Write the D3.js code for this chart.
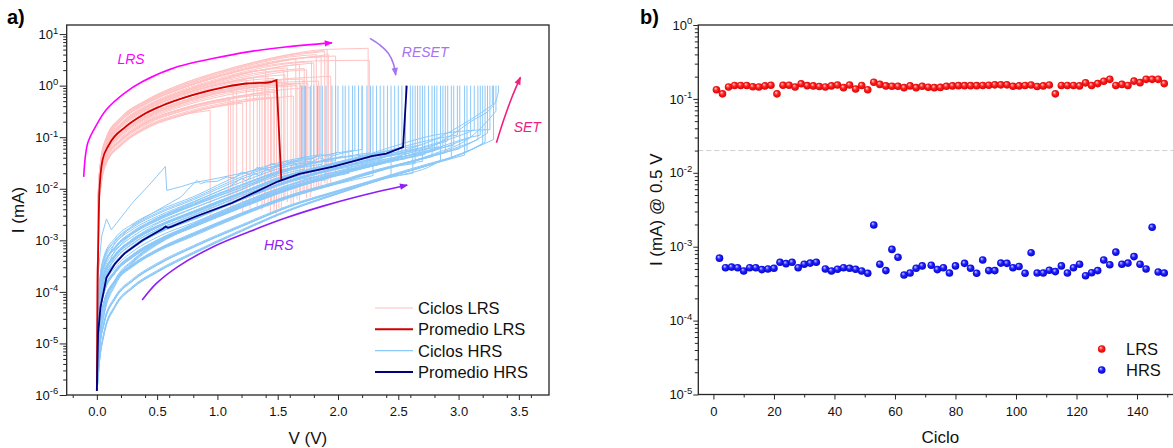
<!DOCTYPE html>
<html>
<head>
<meta charset="utf-8">
<script src="https://cdn.jsdelivr.net/npm/d3@7"></script>
<style>
  body { margin: 0; background: #fff; }
  svg { display: block; font-family: "Liberation Sans", Arial, sans-serif; }
</style>
</head>
<body>
<svg id="chart" width="1173" height="448"></svg>
<script>
// ---------------- Panel a): I-V sweeps ----------------
const startI = 1.2e-6;        // current at 0 V (mA)
const complianceI = 1.0;      // SET compliance (mA)

// LRS sweeps: currents (mA) sampled on lrsGridV up to the RESET voltage
const lrsGridV = [0.01, 0.03, 0.08, 0.2, 0.4, 0.7, 1.0, 1.3, 1.6, 1.9, 2.2];
const lrsCycleI = [
  [0.0025, 0.0098, 0.032, 0.07, 0.148, 0.265],
  [0.0033, 0.013, 0.043, 0.091, 0.19, 0.355, 0.53],
  [0.0036, 0.0155, 0.051, 0.112, 0.235, 0.455, 0.72],
  [0.0041, 0.0185, 0.059, 0.137, 0.285, 0.565, 0.9],
  [0.0024, 0.0095, 0.031, 0.068, 0.142, 0.26, 0.39],
  [0.003, 0.012, 0.04, 0.086, 0.185, 0.34, 0.51],
  [0.0046, 0.021, 0.07, 0.163, 0.335, 0.67, 1.07],
  [0.0034, 0.0148, 0.049, 0.108, 0.226, 0.44, 0.7, 0.92],
  [0.004, 0.0178, 0.057, 0.133, 0.276, 0.55, 0.88, 1.13],
  [0.0051, 0.0255, 0.081, 0.183, 0.385, 0.77, 1.28, 1.92],
  [0.0026, 0.0102, 0.034, 0.073, 0.153, 0.275, 0.41, 0.53],
  [0.0031, 0.0124, 0.041, 0.088, 0.188, 0.345, 0.515, 0.68],
  [0.0039, 0.0175, 0.056, 0.131, 0.272, 0.545, 0.87, 1.12],
  [0.0045, 0.0198, 0.067, 0.158, 0.325, 0.65, 1.03, 1.43],
  [0.0035, 0.0152, 0.051, 0.112, 0.232, 0.455, 0.72, 0.94, 1.05],
  [0.0057, 0.0285, 0.09, 0.213, 0.445, 0.9, 1.52, 2.32, 3.2],
  [0.005, 0.0248, 0.078, 0.178, 0.375, 0.75, 1.25, 1.88, 2.48],
  [0.0042, 0.0182, 0.059, 0.138, 0.285, 0.57, 0.91, 1.17, 1.32],
  [0.0044, 0.0202, 0.069, 0.162, 0.332, 0.665, 1.06, 1.46, 1.92],
  [0.0032, 0.0128, 0.043, 0.091, 0.194, 0.355, 0.53, 0.7, 0.86],
  [0.0049, 0.0242, 0.077, 0.176, 0.37, 0.74, 1.23, 1.86, 2.45],
  [0.0063, 0.032, 0.1, 0.24, 0.5, 1.05, 1.8, 2.8, 4.0, 5.0],
  [0.0056, 0.0275, 0.088, 0.208, 0.435, 0.88, 1.48, 2.28, 3.15, 3.95],
  [0.0064, 0.033, 0.102, 0.245, 0.51, 1.07, 1.83, 2.85, 4.05, 5.05, 5.25],
  [0.0055, 0.027, 0.086, 0.205, 0.43, 0.87, 1.45, 2.2, 2.8, 3.05, 3.1],
  [0.0046, 0.0205, 0.069, 0.16, 0.33, 0.66, 1.05, 1.45],
  [0.005, 0.025, 0.079, 0.18, 0.38, 0.76, 1.26, 1.9],
  [0.0036, 0.015, 0.05, 0.11, 0.23, 0.45, 0.71, 0.93, 1.05],
  [0.0056, 0.028, 0.089, 0.21, 0.44, 0.89, 1.5, 2.3, 3.2],
  [0.0025, 0.01, 0.033, 0.071, 0.15, 0.27, 0.4, 0.52, 0.62],
  [0.0032, 0.0126, 0.042, 0.089, 0.19, 0.35, 0.52, 0.69],
  [0.0038, 0.016, 0.053, 0.12, 0.25, 0.49, 0.78, 1.0, 1.1],
  [0.0058, 0.029, 0.092, 0.22, 0.46, 0.94, 1.58, 2.45, 3.3, 3.7],
  [0.0029, 0.0115, 0.038, 0.082, 0.172, 0.315, 0.47],
  [0.0037, 0.016, 0.053, 0.118, 0.245, 0.475, 0.75, 0.97],
  [0.0043, 0.019, 0.063, 0.148, 0.305, 0.61, 0.97, 1.3],
  [0.0027, 0.0106, 0.035, 0.076, 0.16, 0.29, 0.435, 0.56],
  [0.0047, 0.022, 0.073, 0.168, 0.35, 0.7, 1.13, 1.6, 2.05],
  [0.0034, 0.0142, 0.047, 0.103, 0.215, 0.415, 0.65, 0.85, 0.98],
  [0.0041, 0.0178, 0.058, 0.135, 0.28, 0.56, 0.89, 1.15, 1.38, 1.5],
  [0.0053, 0.026, 0.083, 0.192, 0.4, 0.81, 1.35, 2.05, 2.7],
  [0.003, 0.0118, 0.039, 0.084, 0.178, 0.325, 0.485, 0.64],
  [0.0045, 0.0205, 0.068, 0.158, 0.328, 0.655, 1.04],
  [0.0038, 0.0165, 0.054, 0.124, 0.256, 0.5, 0.8, 1.04, 1.18],
  [0.006, 0.03, 0.095, 0.228, 0.475, 0.98, 1.67, 2.6, 3.6],
  [0.0049, 0.023, 0.074, 0.172, 0.36, 0.72, 1.18, 1.72],
  [0.0033, 0.0135, 0.045, 0.097, 0.204, 0.39, 0.6, 0.79],
  [0.0059, 0.031, 0.097, 0.232, 0.485, 1.0, 1.72, 2.7, 3.8]
];
const lrsResetV = [0.94, 1.09, 1.13, 1.16, 1.21, 1.27, 1.30, 1.33, 1.37, 1.40, 1.45, 1.49, 1.53, 1.56, 1.61, 1.65, 1.68,
  1.71, 1.74, 1.77, 1.80, 1.91, 1.92, 2.25, 2.26, 1.42, 1.58, 1.69, 1.86, 1.63, 1.35, 1.75, 1.98,
  1.11, 1.39, 1.47, 1.51, 1.72, 1.66, 1.94, 1.78, 1.44, 1.24, 1.84, 1.82, 1.55, 1.47, 1.89];
const lrsResetTopI = [0.33, 0.58, 0.78, 0.97, 0.46, 0.64, 1.43, 0.94, 1.19, 2.02, 0.57, 0.75, 1.24, 1.62, 1.06, 3.3, 2.6,
  1.34, 2.03, 0.91, 2.75, 5.1, 4.0, 5.3, 3.1, 1.5, 2.2, 1.1, 3.6, 0.63, 0.72, 1.12, 3.75,
  0.52, 1.02, 1.38, 0.6, 2.15, 1.0, 1.52, 2.9, 0.67, 1.3, 1.22, 4.0, 2.0, 0.84, 4.6];
const lrsResetLowI = [0.0026, 0.0052, 0.0042, 0.006, 0.0035, 0.0041, 0.0052, 0.0046, 0.0038, 0.0062, 0.0049, 0.0033, 0.0041,
  0.0071, 0.0051, 0.0082, 0.0058, 0.0088, 0.0066, 0.0069, 0.0098, 0.012, 0.015, 0.034, 0.028, 0.0045, 0.0055, 0.0075,
  0.011, 0.0045, 0.006, 0.0095, 0.018,
  0.0038, 0.0052, 0.0036, 0.0042, 0.0078, 0.0062, 0.012, 0.0085, 0.0032, 0.0048, 0.0105, 0.01, 0.0058, 0.0045, 0.013];

// HRS sweeps: currents (mA) sampled on hrsGridV up to the SET voltage
const hrsGridV = [0.005, 0.02, 0.06, 0.15, 0.3, 0.5, 0.8, 1.2, 1.6, 2.0, 2.4, 2.8, 3.1, 3.3];
const hrsCycleI = [
  [3.2e-5, 1.3e-4, 4.6e-4, 1.0e-3, 1.9e-3, 3.4e-3, 6.5e-3, 0.017, 0.033],
  [2.1e-5, 9e-5, 3.3e-4, 7.3e-4, 1.4e-3, 2.6e-3, 5e-3, 0.012, 0.025],
  [1.4e-5, 6.2e-5, 2.2e-4, 5.2e-4, 1.05e-3, 1.9e-3, 3.6e-3, 8.5e-3, 0.019],
  [3.5e-5, 1.4e-4, 5e-4, 1.1e-3, 2.1e-3, 3.7e-3, 7e-3, 0.019, 0.036],
  [1.9e-5, 8.5e-5, 3.1e-4, 6.9e-4, 1.35e-3, 2.4e-3, 4.7e-3, 0.0105, 0.023],
  [1.5e-5, 6.5e-5, 2.3e-4, 5.1e-4, 1e-3, 1.85e-3, 3.4e-3, 8e-3, 0.018],
  [2e-5, 9.2e-5, 3.4e-4, 7.5e-4, 1.5e-3, 2.7e-3, 5.2e-3, 0.012, 0.025, 0.041],
  [1e-5, 4.6e-5, 1.6e-4, 3.6e-4, 7.6e-4, 1.45e-3, 2.7e-3, 6.5e-3, 0.0145, 0.026],
  [3e-5, 1.2e-4, 4.3e-4, 9.5e-4, 1.8e-3, 3.2e-3, 6.1e-3, 0.0155, 0.031, 0.05],
  [1.35e-5, 6e-5, 2.1e-4, 4.8e-4, 9.6e-4, 1.75e-3, 3.4e-3, 8.1e-3, 0.0175, 0.031],
  [9.5e-6, 4.4e-5, 1.55e-4, 3.4e-4, 7.2e-4, 1.35e-3, 2.5e-3, 6.1e-3, 0.0135, 0.024],
  [2.2e-5, 9.5e-5, 3.3e-4, 7.2e-4, 1.45e-3, 2.55e-3, 4.9e-3, 0.0115, 0.024, 0.04],
  [1.45e-5, 6.4e-5, 2.25e-4, 5.1e-4, 1.02e-3, 1.85e-3, 3.6e-3, 8.4e-3, 0.018, 0.032],
  [6.3e-6, 2.8e-5, 1e-4, 2.4e-4, 5e-4, 9.5e-4, 1.9e-3, 4.5e-3, 0.01, 0.019],
  [1.05e-5, 4.7e-5, 1.65e-4, 3.6e-4, 7.6e-4, 1.45e-3, 2.7e-3, 6.4e-3, 0.0142, 0.025, 0.042],
  [1.4e-5, 6.3e-5, 2.2e-4, 5e-4, 1e-3, 1.8e-3, 3.5e-3, 8.3e-3, 0.018, 0.032, 0.052],
  [6.5e-6, 2.9e-5, 1.05e-4, 2.5e-4, 5.2e-4, 9.8e-4, 1.95e-3, 4.6e-3, 0.0102, 0.0195, 0.034],
  [1e-5, 4.5e-5, 1.6e-4, 3.5e-4, 7.4e-4, 1.4e-3, 2.6e-3, 6.3e-3, 0.014, 0.025, 0.042],
  [4e-6, 1.8e-5, 6.3e-5, 1.6e-4, 3.3e-4, 6.3e-4, 1.3e-3, 3.2e-3, 7.1e-3, 0.013, 0.025],
  [1.5e-5, 6.6e-5, 2.3e-4, 5.3e-4, 1.05e-3, 1.9e-3, 3.7e-3, 8.6e-3, 0.019, 0.033, 0.054],
  [6.1e-6, 2.7e-5, 9.7e-5, 2.3e-4, 4.8e-4, 9.2e-4, 1.85e-3, 4.4e-3, 9.8e-3, 0.0185, 0.032],
  [1.1e-5, 4.8e-5, 1.7e-4, 3.7e-4, 7.8e-4, 1.5e-3, 2.8e-3, 6.6e-3, 0.0148, 0.026, 0.044],
  [4.2e-6, 1.9e-5, 6.5e-5, 1.65e-4, 3.4e-4, 6.5e-4, 1.35e-3, 3.3e-3, 7.3e-3, 0.0135, 0.026],
  [6.3e-6, 2.8e-5, 1e-4, 2.4e-4, 5e-4, 9.5e-4, 1.9e-3, 4.5e-3, 0.01, 0.019, 0.033, 0.056],
  [1.5e-6, 4e-6, 1.5e-5, 5e-5, 1.2e-4, 2.4e-4, 5.5e-4, 1.5e-3, 3.8e-3, 8e-3, 0.016, 0.03],
  [3.8e-6, 1.7e-5, 6e-5, 1.55e-4, 3.2e-4, 6.1e-4, 1.25e-3, 3.1e-3, 6.9e-3, 0.0128, 0.024, 0.044],
  [1e-5, 4.5e-5, 1.6e-4, 3.5e-4, 7.4e-4, 1.4e-3, 2.6e-3, 6.3e-3, 0.014, 0.025, 0.042, 0.071],
  [6.8e-6, 3e-5, 1.07e-4, 2.55e-4, 5.3e-4, 1e-3, 2e-3, 4.7e-3, 0.0105, 0.02, 0.035, 0.058],
  [4e-6, 1.8e-5, 6.3e-5, 1.6e-4, 3.3e-4, 6.3e-4, 1.3e-3, 3.2e-3, 7.1e-3, 0.013, 0.025, 0.045],
  [2e-6, 7e-6, 2.5e-5, 7.5e-5, 1.7e-4, 3.4e-4, 7.5e-4, 1.9e-3, 4.6e-3, 9e-3, 0.017, 0.032],
  [6e-6, 2.7e-5, 9.6e-5, 2.3e-4, 4.8e-4, 9.1e-4, 1.8e-3, 4.3e-3, 9.7e-3, 0.0185, 0.032, 0.055],
  [4.1e-6, 1.85e-5, 6.4e-5, 1.62e-4, 3.35e-4, 6.4e-4, 1.32e-3, 3.25e-3, 7.2e-3, 0.0132, 0.025, 0.046, 0.079],
  [1.5e-6, 4.2e-6, 1.6e-5, 5.2e-5, 1.25e-4, 2.5e-4, 5.7e-4, 1.55e-3, 3.9e-3, 8.2e-3, 0.0162, 0.031, 0.056],
  [3.9e-6, 1.75e-5, 6.1e-5, 1.58e-4, 3.25e-4, 6.2e-4, 1.28e-3, 3.15e-3, 7e-3, 0.0128, 0.0245, 0.044, 0.077],
  [1.2e-5, 5.2e-5, 1.9e-4, 4.3e-4, 8.8e-4, 1.6e-3, 3.1e-3, 7.4e-3, 0.016, 0.03, 0.06, 0.11, 0.135],
  [1.9e-6, 6.6e-6, 2.4e-5, 7.2e-5, 1.65e-4, 3.3e-4, 7.3e-4, 1.85e-3, 4.5e-3, 8.8e-3, 0.0168, 0.031, 0.057],
  [6.2e-6, 2.75e-5, 9.8e-5, 2.35e-4, 4.9e-4, 9.3e-4, 1.85e-3, 4.4e-3, 9.9e-3, 0.019, 0.034, 0.07, 0.2, 0.45],
  [1.7e-5, 7.5e-5, 2.7e-4, 6e-4, 1.2e-3, 2.2e-3, 4.2e-3, 9.8e-3, 0.021],
  [9e-6, 4e-5, 1.5e-4, 3.4e-4, 7e-4, 1.35e-3, 2.6e-3, 6.2e-3, 0.0138],
  [2.5e-6, 9e-6, 4e-5, 1.5e-4, 4e-4, 9e-4, 2e-3, 5e-3, 0.011],
  [2.6e-5, 1.1e-4, 3.9e-4, 8.6e-4, 1.65e-3, 2.9e-3, 5.6e-3, 0.0135, 0.028],
  [6e-6, 2.6e-5, 9.5e-5, 2.3e-4, 4.7e-4, 9e-4, 1.8e-3, 4.3e-3, 9.6e-3, 0.018],
  [1.3e-5, 5.8e-5, 2.1e-4, 4.7e-4, 9.5e-4, 1.75e-3, 3.3e-3, 7.9e-3, 0.017, 0.03],
  [3e-6, 1.2e-5, 5e-5, 1.7e-4, 4.2e-4, 9e-4, 2.1e-3, 5.4e-3, 0.012, 0.022],
  [3.6e-6, 1.6e-5, 5.8e-5, 1.5e-4, 3.1e-4, 6e-4, 1.2e-3, 3e-3, 6.7e-3, 0.0125],
  [1.9e-5, 8.6e-5, 3.1e-4, 6.9e-4, 1.35e-3, 2.45e-3, 4.7e-3, 0.0108, 0.023, 0.039],
  [2e-6, 7e-6, 2.5e-5, 7.5e-5, 1.7e-4, 3.4e-4, 7.5e-4, 1.9e-3, 4.6e-3, 9e-3, 0.017],
  [8e-6, 3.6e-5, 1.3e-4, 2.9e-4, 6.1e-4, 1.15e-3, 2.2e-3, 5.3e-3, 0.012, 0.022, 0.038],
  [2.2e-6, 8e-6, 3.5e-5, 1.3e-4, 3.6e-4, 8.2e-4, 1.85e-3, 4.7e-3, 0.0105, 0.0195, 0.034],
  [1.5e-6, 4e-6, 1.5e-5, 5e-5, 1.2e-4, 2.4e-4, 5.5e-4, 1.5e-3, 3.8e-3, 8e-3, 0.016],
  [1.2e-5, 5.3e-5, 1.9e-4, 4.2e-4, 8.6e-4, 1.6e-3, 3e-3, 7.2e-3, 0.016, 0.028, 0.047],
  [4.3e-6, 1.9e-5, 6.6e-5, 1.7e-4, 3.5e-4, 6.7e-4, 1.4e-3, 3.4e-3, 7.5e-3, 0.014, 0.026],
  [7e-6, 3.1e-5, 1.1e-4, 2.6e-4, 5.4e-4, 1.02e-3, 2.05e-3, 4.8e-3, 0.0107, 0.0202, 0.035],
  [2.8e-6, 1.1e-5, 4.6e-5, 1.6e-4, 4e-4, 8.6e-4, 2e-3, 5.1e-3, 0.0115, 0.021, 0.037, 0.063],
  [2.1e-6, 7.5e-6, 2.7e-5, 8e-5, 1.8e-4, 3.6e-4, 7.9e-4, 2e-3, 4.8e-3, 9.3e-3, 0.0175, 0.033],
  [1.45e-5, 6.5e-5, 2.3e-4, 5.2e-4, 1.03e-3, 1.85e-3, 3.6e-3, 8.5e-3, 0.0185, 0.033, 0.054, 0.092],
  [1.6e-6, 4.5e-6, 1.7e-5, 5.5e-5, 1.3e-4, 2.6e-4, 5.9e-4, 1.6e-3, 4e-3, 8.4e-3, 0.0165, 0.031],
  [1e-5, 4.5e-5, 1.6e-4, 3.5e-4, 7.4e-4, 1.4e-3, 2.6e-3, 6.3e-3, 0.014, 0.025, 0.042, 0.075, 0.13],
  [2.3e-6, 8.5e-6, 3.7e-5, 1.4e-4, 3.8e-4, 8.5e-4, 1.9e-3, 4.8e-3, 0.0108, 0.02, 0.035, 0.06, 0.1],
  [1.9e-6, 6.8e-6, 2.4e-5, 7.2e-5, 1.65e-4, 3.3e-4, 7.3e-4, 1.85e-3, 4.5e-3, 8.8e-3, 0.0168, 0.031, 0.057],
  [1.1e-5, 4.8e-5, 1.7e-4, 3.7e-4, 7.8e-4, 1.45e-3, 2.7e-3, 6.5e-3, 0.0145, 0.026, 0.045, 0.09, 0.22],
  [4e-6, 1.8e-5, 6.3e-5, 1.6e-4, 3.3e-4, 6.3e-4, 1.3e-3, 3.2e-3, 7.1e-3, 0.013, 0.025, 0.048, 0.1, 0.3]
];
const hrsSetV = [1.70, 1.73, 1.77, 1.83, 1.87, 1.95, 2.04, 2.06, 2.14, 2.17, 2.24, 2.27, 2.32, 2.35, 2.41, 2.47, 2.50,
  2.60, 2.64, 2.68, 2.72, 2.75, 2.78, 2.82, 2.85, 2.89, 2.91, 2.96, 3.01, 3.07, 3.10, 3.16, 3.20, 3.24, 3.26, 3.29, 3.33,
  1.72, 1.80, 1.90, 1.98, 2.09, 2.12, 2.20, 2.29, 2.38, 2.44, 2.53, 2.56, 2.62, 2.66, 2.70, 2.80, 2.87, 2.94, 2.99, 3.05,
  3.13, 3.18, 3.22, 3.28, 3.31];
const hrsSetI = [0.037, 0.028, 0.022, 0.045, 0.03, 0.026, 0.043, 0.028, 0.056, 0.035, 0.03, 0.05, 0.045, 0.03, 0.043,
  0.058, 0.037, 0.05, 0.031, 0.07, 0.046, 0.06, 0.042, 0.058, 0.036, 0.05, 0.085, 0.07, 0.06, 0.052, 0.1, 0.09, 0.075,
  0.12, 0.14, 0.09, 0.75,
  0.024, 0.017, 0.015, 0.035, 0.02, 0.033, 0.026, 0.018, 0.048, 0.019, 0.043, 0.038, 0.02, 0.06, 0.034, 0.055, 0.066,
  0.04, 0.11, 0.045, 0.14, 0.11, 0.08, 0.42, 0.32];

// HRS sweeps with noisy / irregular segments, given point by point [V, I]
const hrsNoisySweeps = [
  [[0, 1.2e-6], [0.01, 6e-5], [0.05, 3e-4], [0.15, 9e-4], [0.3, 2e-3], [0.5, 3.8e-3], [0.7, 7e-3], [0.8, 0.0125],
   [0.83, 0.0145], [0.86, 0.0125], [0.9, 0.0135], [1.0, 0.014], [1.08, 0.017], [1.14, 0.016], [1.2, 0.021],
   [1.27, 0.019], [1.33, 0.026], [1.38, 0.024], [1.45, 0.031], [1.5, 0.028], [1.56, 0.034], [1.62, 0.032],
   [1.7, 0.04], [1.76, 0.037], [1.85, 0.045]],
  [[0, 1.2e-6], [0.01, 4e-5], [0.05, 2e-4], [0.15, 6.5e-4], [0.3, 1.4e-3], [0.5, 2.7e-3], [0.8, 5.5e-3], [1.1, 0.011],
   [1.2, 0.016], [1.24, 0.014], [1.3, 0.02], [1.35, 0.018], [1.4, 0.024], [1.44, 0.022], [1.5, 0.03], [1.55, 0.027],
   [1.62, 0.036], [1.68, 0.033], [1.72, 0.042], [1.78, 0.038], [1.85, 0.046], [1.92, 0.043], [2.0, 0.052]],
  [[0, 1.2e-6], [0.01, 3e-5], [0.05, 1.5e-4], [0.15, 5e-4], [0.3, 1.1e-3], [0.5, 2.1e-3], [0.8, 4.2e-3], [1.2, 9.5e-3],
   [1.4, 0.016], [1.45, 0.02], [1.48, 0.017], [1.52, 0.025], [1.58, 0.022], [1.63, 0.03], [1.68, 0.027], [1.72, 0.035],
   [1.78, 0.033], [1.85, 0.04], [1.9, 0.036], [1.96, 0.044], [2.05, 0.05], [2.2, 0.058]],
  [[0, 1.2e-6], [0.01, 2e-4], [0.04, 1.2e-3], [0.08, 2.6e-3], [0.12, 1.6e-3], [0.3, 5.5e-3], [0.45, 0.013],
   [0.568, 0.027], [0.58, 0.0093], [0.7, 0.011], [0.8, 0.013], [1.0, 0.016], [1.2, 0.02], [1.4, 0.025], [1.6, 0.03],
   [1.7, 0.032]]
];

// Mean curves [V, I]
const lrsMean = [[0.0, 1.2e-6], [0.006, 1e-4], [0.015, 2e-3], [0.02, 8e-3], [0.047, 0.036], [0.10, 0.071],
  [0.24, 0.16], [0.38, 0.27], [0.52, 0.39], [0.80, 0.66], [1.07, 0.95], [1.24, 1.10], [1.35, 1.13], [1.42, 1.15],
  [1.49, 1.28]];
const lrsMeanReset = [1.53, 0.0148];
const hrsMean = [[0.0, 1.2e-6], [0.01, 1.5e-5], [0.03, 5e-5], [0.08, 1.9e-4], [0.15, 3.5e-4], [0.23, 5.6e-4],
  [0.38, 1.0e-3], [0.55, 1.7e-3], [0.57, 1.85e-3], [0.59, 1.75e-3], [0.62, 1.85e-3], [0.82, 2.9e-3], [1.12, 5.3e-3],
  [1.50, 0.0138], [1.68, 0.0195], [1.96, 0.027], [2.16, 0.036], [2.28, 0.043], [2.40, 0.048], [2.54, 0.064]];
const hrsMeanSet = [2.57, 1.0];

// Direction arrows and their labels, in data units [V, I]
const arrowLRS = [[-0.109, 0.017], [-0.076, 0.076], [-0.011, 0.16], [0.078, 0.34], [0.227, 0.71], [0.376, 1.19],
  [0.673, 2.34], [0.97, 3.39], [1.267, 4.57], [1.564, 5.62], [1.95, 6.76]];
const arrowHRS = [[0.376, 6.95e-5], [0.494, 1.46e-4], [0.673, 3.1e-4], [0.97, 7.6e-4], [1.267, 1.48e-3],
  [1.564, 2.7e-3], [1.861, 4.5e-3], [2.158, 7e-3], [2.574, 0.0118]];
const arrowRESET = [[2.265, 8.26], [2.349, 6.12], [2.418, 4.23], [2.459, 2.70], [2.479, 1.60]];
const arrowSET = [[3.314, 0.078], [3.374, 0.215], [3.444, 0.61], [3.513, 1.45]];
const stateLabels = [
  { text: "LRS", v: 0.171, i: 2.62, color: "#ff00ff" },
  { text: "RESET", v: 2.529, i: 3.66, color: "#a574f0" },
  { text: "SET", v: 3.457, i: 0.126, color: "#f0207e" },
  { text: "HRS", v: 1.386, i: 6.5e-4, color: "#8e1ef5" }
];

const voltTicks = [0, 0.5, 1.0, 1.5, 2.0, 2.5, 3.0, 3.5];
const legendA = ["Ciclos LRS", "Promedio LRS", "Ciclos HRS", "Promedio HRS"];

// ---------------- Panel b): read current at 0.5 V per cycle ----------------
const lrsCiclo = [1, 3, 5, 7, 9, 11, 13, 15, 17, 19, 21, 23, 25, 27, 29, 31, 33, 35, 37, 39, 41, 43, 45, 47, 49,
  51, 53, 55, 57, 59, 61, 63, 65, 67, 69, 71, 73, 75, 77, 79, 81, 83, 85, 87, 89, 91, 93, 95, 97, 99, 101, 103, 105,
  107, 109, 111, 113, 115, 117, 119, 121, 123, 125, 127, 129, 131, 133, 135, 137, 139, 141, 143, 145, 147, 149];
const lrsRead = [0.133, 0.117, 0.145, 0.152, 0.152, 0.152, 0.146, 0.145, 0.150, 0.153, 0.117, 0.153, 0.153, 0.145,
  0.160, 0.151, 0.150, 0.147, 0.145, 0.150, 0.154, 0.142, 0.154, 0.136, 0.152, 0.133, 0.168, 0.157, 0.150, 0.148,
  0.148, 0.142, 0.150, 0.142, 0.148, 0.144, 0.142, 0.143, 0.148, 0.150, 0.151, 0.151, 0.151, 0.151, 0.152, 0.153,
  0.155, 0.155, 0.155, 0.148, 0.150, 0.152, 0.154, 0.147, 0.150, 0.154, 0.117, 0.152, 0.152, 0.152, 0.150, 0.165,
  0.152, 0.161, 0.173, 0.184, 0.152, 0.157, 0.152, 0.174, 0.166, 0.184, 0.184, 0.184, 0.161];
const hrsCiclo = [2, 4, 6, 8, 10, 12, 14, 16, 18, 20, 22, 24, 26, 28, 30, 32, 34, 37, 39, 41, 43, 45, 47, 49, 51,
  53, 55, 57, 59, 61, 63, 65, 67, 69, 72, 74, 76, 78, 80, 83, 85, 87, 89, 91, 93, 95, 97, 99, 101, 103, 105, 107, 109,
  111, 113, 115, 117, 119, 121, 123, 125, 127, 129, 131, 133, 135, 137, 139, 141, 143, 145, 147, 149];
const hrsRead = [7.0e-4, 5.2e-4, 5.3e-4, 5.2e-4, 4.7e-4, 5.2e-4, 5.2e-4, 4.9e-4, 5.0e-4, 5.1e-4, 6.15e-4, 5.9e-4,
  6.15e-4, 5.2e-4, 5.8e-4, 6.0e-4, 6.15e-4, 5.0e-4, 4.7e-4, 4.95e-4, 5.2e-4, 5.1e-4, 4.95e-4, 4.7e-4, 4.37e-4,
  1.97e-3, 5.8e-4, 4.75e-4, 9.2e-4, 7.2e-4, 4.14e-4, 4.4e-4, 5.1e-4, 5.5e-4, 5.6e-4, 4.9e-4, 5.2e-4, 4.4e-4, 5.5e-4,
  5.95e-4, 5.1e-4, 4.37e-4, 6.6e-4, 4.75e-4, 4.75e-4, 6.0e-4, 5.95e-4, 5.2e-4, 5.4e-4, 4.37e-4, 8.3e-4, 4.4e-4,
  4.4e-4, 4.8e-4, 4.6e-4, 5.5e-4, 4.4e-4, 5.2e-4, 5.8e-4, 4.05e-4, 4.45e-4, 4.75e-4, 6.6e-4, 5.7e-4, 8.45e-4, 5.8e-4,
  6.0e-4, 7.35e-4, 5.8e-4, 5.0e-4, 1.83e-3, 4.55e-4, 4.4e-4];
const thresholdI = 0.02;
const cicloTicks = [0, 20, 40, 60, 80, 100, 120, 140];
const legendB = ["LRS", "HRS"];

// ---------------- drawing ----------------
const svg = d3.select("#chart");
const defs = svg.append("defs");
const FRAME = "#262626";

const xL = d3.scaleLinear().domain([-0.25, 3.75]).range([66.7, 549]);
const yL = d3.scaleLog().domain([1e-6, 15]).range([395, 25]);
const xR = d3.scaleLinear().domain([-5, 155]).range([698.3, 1182.4]);
const yR = d3.scaleLog().domain([1e-5, 1]).range([394.5, 25]);

const isDecade = v => Math.abs(Math.log10(v) - Math.round(Math.log10(v))) < 1e-9;

function supLabels(sel) {
  sel.each(function (d) {
    const e = Math.round(Math.log10(d));
    const t = d3.select(this).text(null);
    t.append("tspan").text("10");
    t.append("tspan").attr("dy", "-0.55em").attr("font-size", "9.5px").text(e);
  });
}

function logAxis(g, scale, majorSize, pad) {
  const major = scale.ticks().filter(isDecade);
  const minor = scale.ticks().filter(v => !isDecade(v));
  g.append("g").call(d3.axisLeft(scale).tickValues(minor).tickSize(3.5).tickFormat("").tickSizeOuter(0))
    .call(a => a.select(".domain").remove());
  const m = g.append("g").call(d3.axisLeft(scale).tickValues(major).tickSize(majorSize).tickPadding(pad).tickSizeOuter(0));
  m.select(".domain").remove();
  m.selectAll("text").attr("font-size", 13).attr("fill", "#111").attr("font-family", null).call(supLabels);
  g.selectAll("line").attr("stroke", FRAME);
}

function linAxis(g, scale, major, minorStep, fmt) {
  const minor = scale.ticks(Math.round((scale.domain()[1] - scale.domain()[0]) / minorStep))
    .filter(v => !major.some(m => Math.abs(m - v) < 1e-9));
  g.append("g").call(d3.axisBottom(scale).tickValues(minor).tickSize(3).tickFormat("").tickSizeOuter(0))
    .call(a => a.select(".domain").remove());
  const m = g.append("g").call(d3.axisBottom(scale).tickValues(major).tickSize(5).tickPadding(7).tickFormat(fmt).tickSizeOuter(0));
  m.select(".domain").remove();
  m.selectAll("text").attr("font-size", 13).attr("fill", "#111").attr("font-family", null);
  g.selectAll("line").attr("stroke", FRAME);
}

// ----- panel a -----
const [lx0, lx1] = xL.range(), [ly0, ly1] = yL.range();
defs.append("clipPath").attr("id", "clipA").append("rect")
  .attr("x", lx0).attr("y", ly1).attr("width", lx1 - lx0).attr("height", ly0 - ly1);
const plotA = svg.append("g").attr("clip-path", "url(#clipA)");

const smoothA = d3.line().x(d => xL(d[0])).y(d => yL(d[1])).curve(d3.curveMonotoneX);
const straightA = d3.line().x(d => xL(d[0])).y(d => yL(d[1]));
const stepTo = (v, i) => "L" + xL(v) + "," + yL(i);

const LRS_CYC = "#ffc2c2", LRS_AVG = "#d00000", HRS_CYC = "#8cc8f8", HRS_AVG = "#000080";

lrsCycleI.forEach((I, k) => {
  const pts = [[0, startI]].concat(I.map((c, j) => [lrsGridV[j], c]), [[lrsResetV[k], lrsResetTopI[k]]]);
  plotA.append("path").attr("d", smoothA(pts) + stepTo(lrsResetV[k], lrsResetLowI[k]))
    .attr("fill", "none").attr("stroke", LRS_CYC).attr("stroke-width", 1);
});

hrsCycleI.forEach((I, k) => {
  const pts = [[0, startI]].concat(I.map((c, j) => [hrsGridV[j], c]), [[hrsSetV[k], hrsSetI[k]]]);
  plotA.append("path").attr("d", smoothA(pts) + stepTo(hrsSetV[k], complianceI))
    .attr("fill", "none").attr("stroke", HRS_CYC).attr("stroke-width", 1);
});
hrsNoisySweeps.forEach(pts => {
  const last = pts[pts.length - 1];
  plotA.append("path").attr("d", straightA(pts) + stepTo(last[0], complianceI))
    .attr("fill", "none").attr("stroke", HRS_CYC).attr("stroke-width", 1);
});

plotA.append("path").attr("d", smoothA(lrsMean) + stepTo(lrsMeanReset[0], lrsMeanReset[1]))
  .attr("fill", "none").attr("stroke", LRS_AVG).attr("stroke-width", 1.8);
plotA.append("path").attr("d", straightA(hrsMean) + stepTo(hrsMeanSet[0], hrsMeanSet[1]))
  .attr("fill", "none").attr("stroke", HRS_AVG).attr("stroke-width", 1.8);

// arrows
function arrowHead(id, color) {
  defs.append("marker").attr("id", id).attr("viewBox", "0 0 10 10").attr("refX", 9).attr("refY", 5)
    .attr("markerUnits", "userSpaceOnUse").attr("markerWidth", 10).attr("markerHeight", 8).attr("orient", "auto")
    .append("path").attr("d", "M0,1 L10,5 L0,9 Z").attr("fill", color);
}
const curveA = d3.line().x(d => xL(d[0])).y(d => yL(d[1])).curve(d3.curveCatmullRom.alpha(0.5));
[[arrowLRS, "#ff00ff", "hLRS"], [arrowHRS, "#8e1ef5", "hHRS"], [arrowRESET, "#a574f0", "hRESET"], [arrowSET, "#f0207e", "hSET"]]
  .forEach(([pts, color, id]) => {
    arrowHead(id, color);
    svg.append("path").attr("d", curveA(pts)).attr("fill", "none").attr("stroke", color)
      .attr("stroke-width", 1.6).attr("marker-end", "url(#" + id + ")");
  });
stateLabels.forEach(s => {
  svg.append("text").attr("x", xL(s.v)).attr("y", yL(s.i)).attr("font-size", 14).attr("font-style", "italic")
    .attr("fill", s.color).text(s.text);
});

// frame + axes
svg.append("rect").attr("x", lx0).attr("y", ly1).attr("width", lx1 - lx0).attr("height", ly0 - ly1)
  .attr("fill", "none").attr("stroke", FRAME).attr("stroke-width", 1.3);
logAxis(svg.append("g").attr("transform", `translate(${lx0},0)`), yL, 7, 1.5);
linAxis(svg.append("g").attr("transform", `translate(0,${ly0})`), xL, voltTicks, 0.25, d3.format(".1f"));

svg.append("text").attr("x", (lx0 + lx1) / 2).attr("y", 444).attr("text-anchor", "middle")
  .attr("font-size", 17).attr("fill", "#111").text("V (V)");
svg.append("text").attr("transform", `translate(24,${(ly0 + ly1) / 2}) rotate(-90)`).attr("text-anchor", "middle")
  .attr("font-size", 17).attr("fill", "#111").text("I (mA)");
svg.append("text").attr("x", 7).attr("y", 24).attr("font-size", 20).attr("font-weight", "bold").text("a)");

// legend a
const legColors = [[LRS_CYC, 1.2], [LRS_AVG, 2], [HRS_CYC, 1.2], [HRS_AVG, 2]];
legendA.forEach((name, k) => {
  const y = 308 + k * 21.3;
  svg.append("line").attr("x1", 375).attr("x2", 413).attr("y1", y).attr("y2", y)
    .attr("stroke", legColors[k][0]).attr("stroke-width", legColors[k][1]);
  svg.append("text").attr("x", 418).attr("y", y).attr("dy", "0.36em").attr("font-size", 16.5)
    .attr("fill", "#111").text(name);
});

// ----- panel b -----
const [rx0, rx1] = xR.range(), [ry0, ry1] = yR.range();
svg.append("line").attr("x1", rx0).attr("x2", rx1).attr("y1", yR(thresholdI)).attr("y2", yR(thresholdI))
  .attr("stroke", "#cfcfcf").attr("stroke-width", 1).attr("stroke-dasharray", "5,3");

function ball(id, hi, mid, dark) {
  const g = defs.append("radialGradient").attr("id", id).attr("cx", "50%").attr("cy", "50%").attr("r", "55%")
    .attr("fx", "35%").attr("fy", "30%");
  g.append("stop").attr("offset", "0%").attr("stop-color", hi);
  g.append("stop").attr("offset", "45%").attr("stop-color", mid);
  g.append("stop").attr("offset", "100%").attr("stop-color", dark);
}
ball("ballRed", "#ffd2d2", "#ff1f1f", "#d40000");
ball("ballBlue", "#cfcfff", "#2020ff", "#0000c4");

const plotB = svg.append("g");
plotB.selectAll("circle.lrs").data(lrsCiclo).join("circle").attr("class", "lrs")
  .attr("cx", d => xR(d)).attr("cy", (d, k) => yR(lrsRead[k])).attr("r", 3.8).attr("fill", "url(#ballRed)");
plotB.selectAll("circle.hrs").data(hrsCiclo).join("circle").attr("class", "hrs")
  .attr("cx", d => xR(d)).attr("cy", (d, k) => yR(hrsRead[k])).attr("r", 3.8).attr("fill", "url(#ballBlue)");

svg.append("rect").attr("x", rx0).attr("y", ry1).attr("width", rx1 - rx0).attr("height", ry0 - ry1)
  .attr("fill", "none").attr("stroke", FRAME).attr("stroke-width", 1.3);
logAxis(svg.append("g").attr("transform", `translate(${rx0},0)`), yR, 5, 1);
linAxis(svg.append("g").attr("transform", `translate(0,${ry0})`), xR, cicloTicks, 10, d3.format("d"));

svg.append("text").attr("x", (rx0 + rx1) / 2).attr("y", 443).attr("text-anchor", "middle")
  .attr("font-size", 17).attr("fill", "#111").text("Ciclo");
svg.append("text").attr("transform", `translate(662,${(ry0 + ry1) / 2}) rotate(-90)`).attr("text-anchor", "middle")
  .attr("font-size", 17).attr("fill", "#111").text("I (mA) @ 0.5 V");
svg.append("text").attr("x", 640).attr("y", 24).attr("font-size", 20).attr("font-weight", "bold").text("b)");

// legend b
legendB.forEach((name, k) => {
  const y = 349 + k * 21;
  svg.append("circle").attr("cx", 1101.7).attr("cy", y).attr("r", 3.8)
    .attr("fill", k === 0 ? "url(#ballRed)" : "url(#ballBlue)");
  svg.append("text").attr("x", 1126).attr("y", y).attr("dy", "0.36em").attr("font-size", 16.5)
    .attr("fill", "#111").text(name);
});
</script>
</body>
</html>
